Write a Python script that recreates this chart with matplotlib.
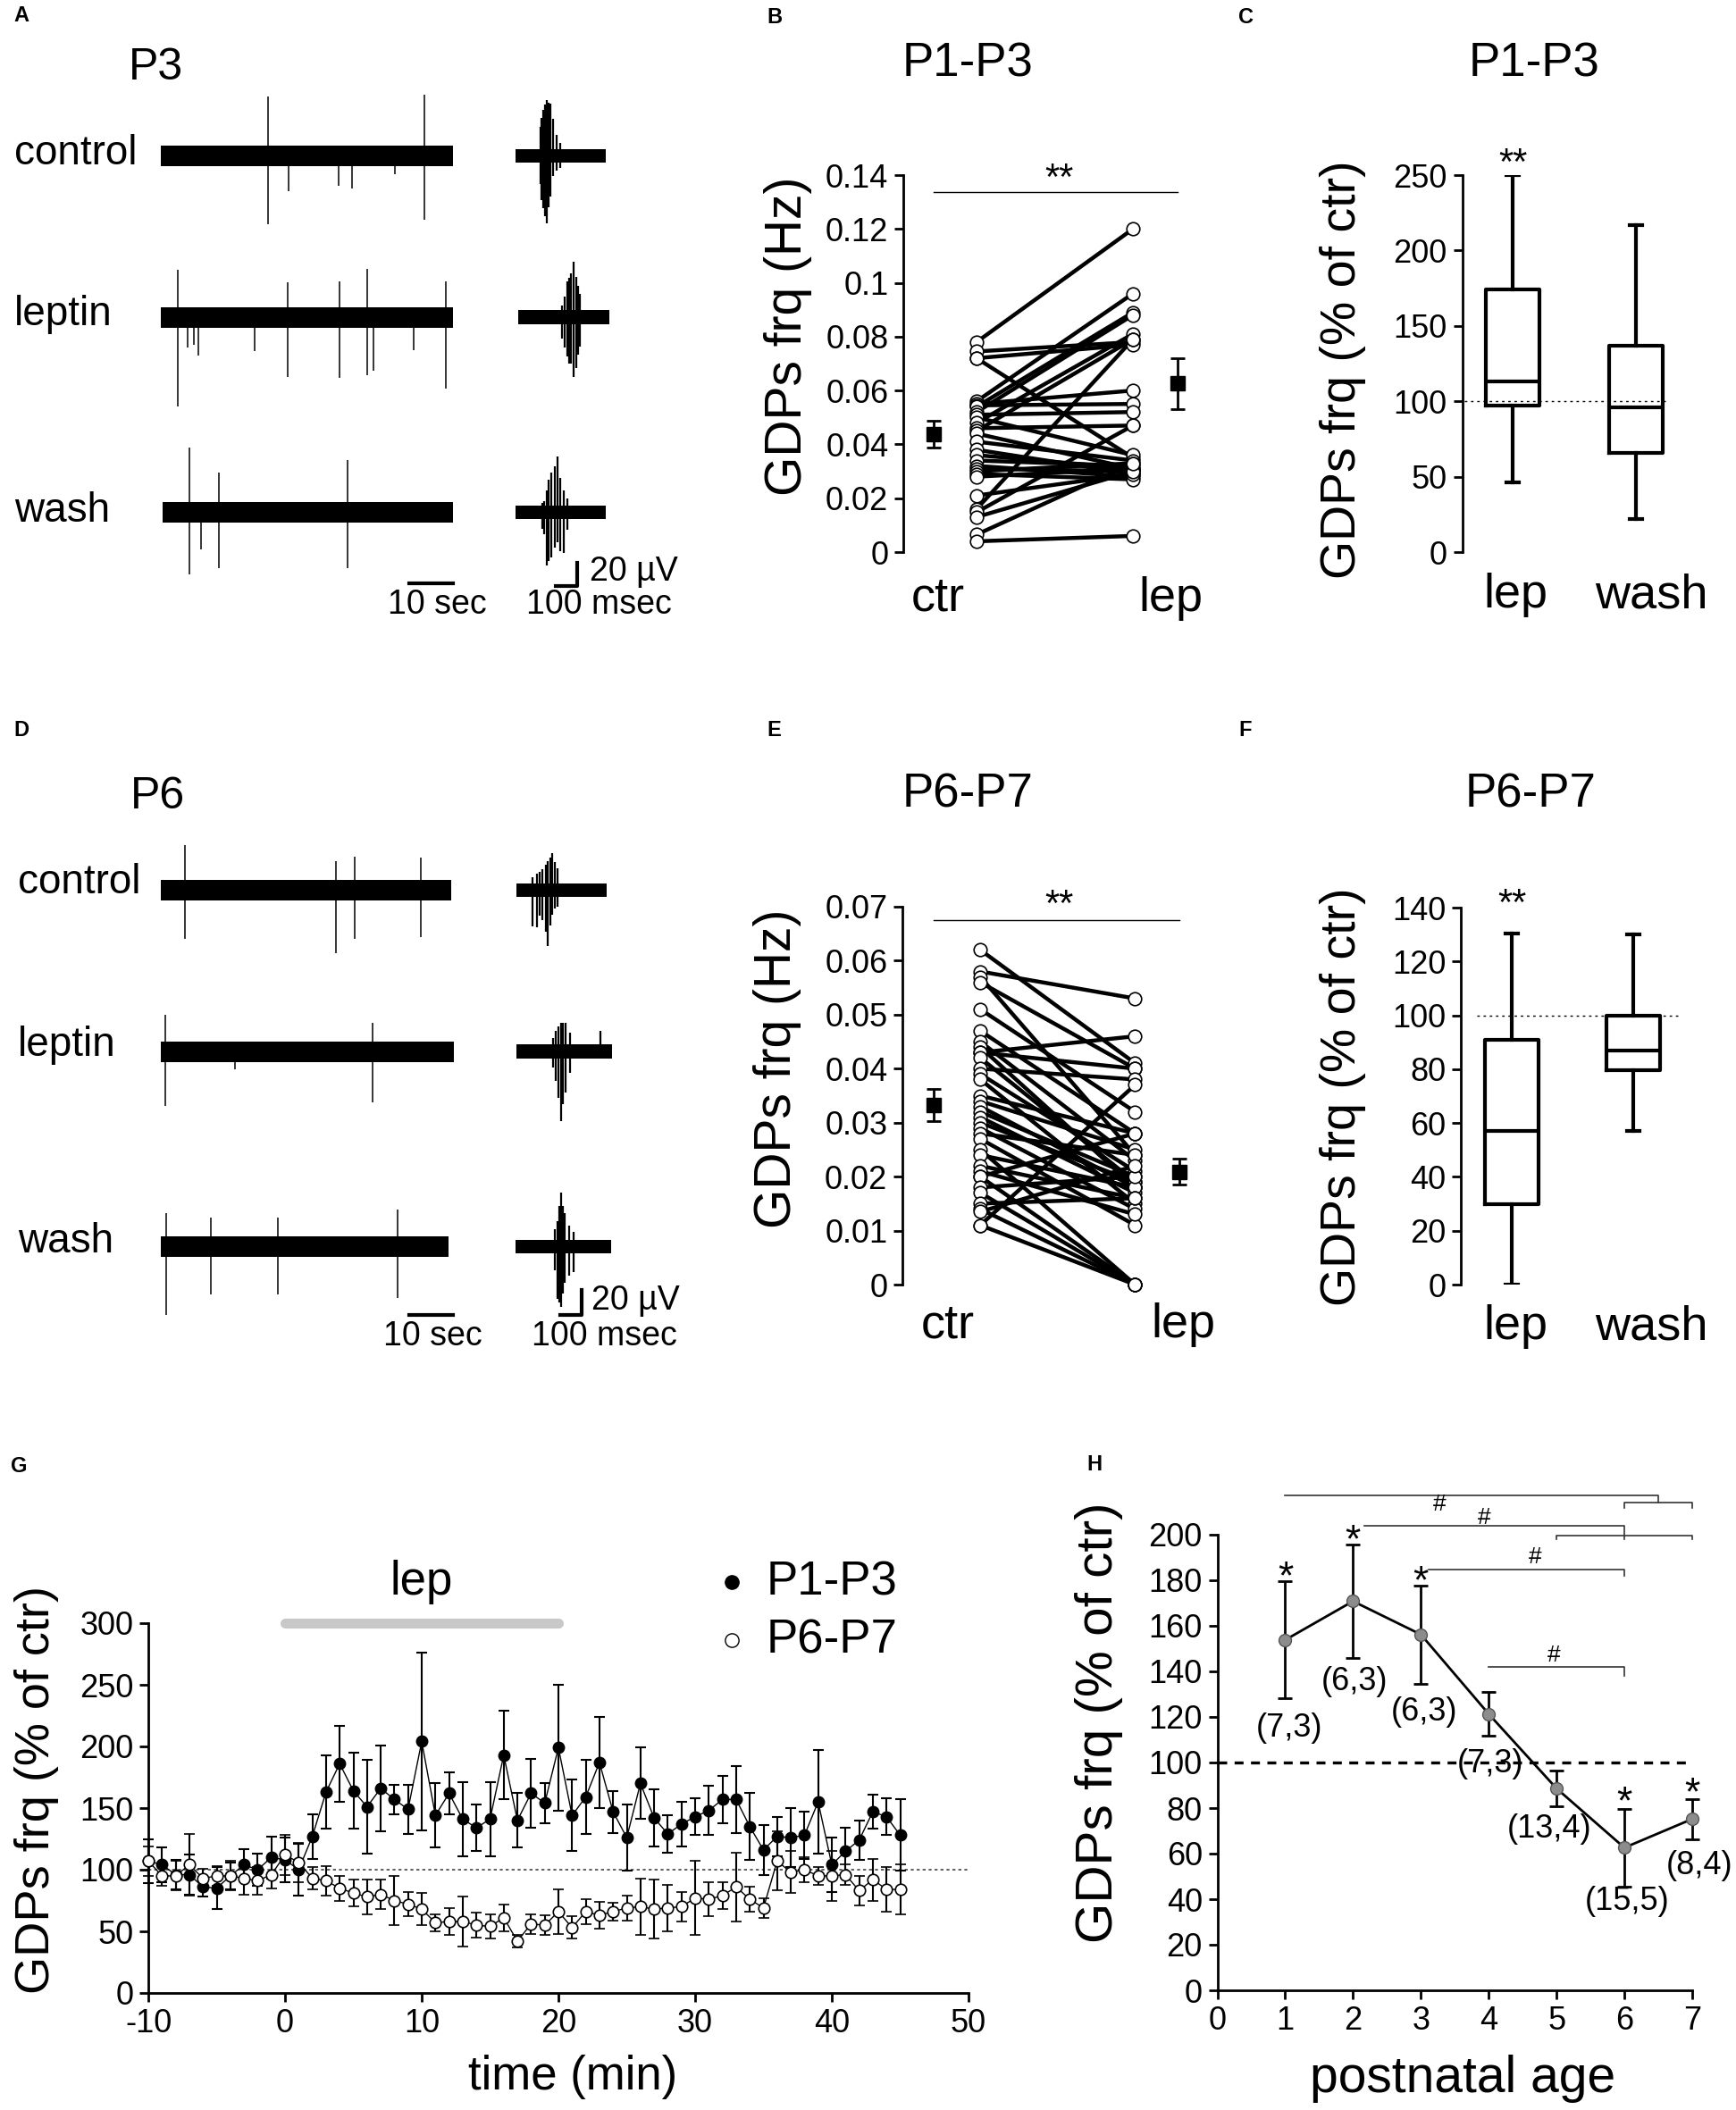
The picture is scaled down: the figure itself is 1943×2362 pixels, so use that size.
import matplotlib
matplotlib.use("Agg")
import matplotlib.pyplot as plt

plt.rcParams['font.family'] = ['Liberation Sans', 'DejaVu Sans']
plt.rcParams['axes.unicode_minus'] = False

W, H = 1943, 2362

# ---------------- data ----------------
# A / D raw traces: (time s, top uV, bottom uV) for each visible spike
A_SPAN = [(0.0, 65.0), (-0.4, 65.0), (0.4, 65.0)]
A_SPIKES = [
    [(23.8, 51, -59), (58.7, 53, -55), (28.5, 9, -30), (39.6, 9, -26), (42.5, 9, -28), (52.0, 9, -16)],
    [(3.7, 41, -77), (6.0, 9, -26), (7.3, 9, -24), (8.4, 9, -33), (20.9, 9, -29), (28.2, 30, -51),
     (39.7, 31, -52), (45.9, 42, -50), (47.3, 9, -46), (56.2, 9, -28), (63.4, 31, -61)],
    [(6.4, 56, -53), (9.0, 9, -32), (13.0, 34, -48), (41.6, 45, -48)],
]
D_SPAN = [(-0.2, 64.6), (-1.0, 65.4), (-0.4, 64.0)]
D_SPIKES = [
    [(5.3, 39, -42), (38.9, 25, -54), (43.1, 29, -42), (57.9, 28, -40)],
    [(1.0, 32, -47), (16.4, 9, -15), (47.1, 25, -44)],
    [(1.1, 29, -59), (11.1, 25, -41), (26.0, 25, -41), (52.7, 32, -44)],
]
# insets: (time ms, top uV, bottom uV)
A_INSET_SPAN = [(0, 421), (12, 437), (0, 421)]
A_BURSTS = [
    [(115, 25, -24), (122, 33, -38), (129, 40, -45), (137, 44, -52), (146, 48, -58), (154, 46, -44),
     (162, 45, -35), (175, 32, -17), (190, 18, -13), (208, 11, -10)],
    [(216, 10, -18), (229, 18, -26), (240, 31, -34), (250, 34, -40), (258, 38, -40), (271, 48, -51),
     (283, 35, -44), (292, 27, -32), (300, 20, -25)],
    [(125, 8, -14), (135, 10, -19), (146, 19, -46), (156, 28, -42), (167, 34, -39), (183, 40, -30),
     (196, 48, -26), (210, 30, -33), (225, 19, -35), (240, 12, -15)],
]
D_INSET_SPAN = [(4, 425), (4, 450), (0, 446)]
D_BURSTS = [
    [(79, 11, -31), (100, 14, -32), (113, 16, -22), (125, 18, -26), (140, 22, -36), (152, 25, -48),
     (162, 28, -30), (172, 32, -21), (184, 24, -16), (196, 19, -14)],
    [(175, 12, -14), (187, 18, -25), (200, 22, -40), (212, 25, -60), (222, 25, -45), (233, 25, -35),
     (254, 16, -18), (396, 18, -5)],
    [(185, 15, -20), (196, 22, -45), (205, 35, -48), (212, 47, -52), (222, 35, -40), (229, 29, -31),
     (250, 18, -25), (271, 13, -22)],
]

# B: GDP frequency ctr -> lep (P1-P3), Hz
B_CTR = [0.078, 0.0745, 0.072, 0.072, 0.056, 0.055, 0.0545, 0.054, 0.052, 0.051, 0.050, 0.048,
         0.046, 0.045, 0.044, 0.041, 0.038, 0.036, 0.034, 0.032, 0.031, 0.030, 0.029, 0.028,
         0.021, 0.016, 0.0148, 0.013, 0.0065, 0.004]
B_LEP = [0.120, 0.078, 0.077, 0.035, 0.096, 0.060, 0.055, 0.089, 0.088, 0.052, 0.036, 0.081,
         0.047, 0.079, 0.031, 0.034, 0.029, 0.031, 0.032, 0.028, 0.030, 0.033, 0.027, 0.031,
         0.029, 0.079, 0.047, 0.030, 0.033, 0.006]
B_MEAN = [0.0437, 0.0626]
B_SEM = [0.0050, 0.0095]

# E: GDP frequency ctr -> lep (P6-P7), Hz
E_CTR = [0.062, 0.058, 0.057, 0.056, 0.051, 0.047, 0.045, 0.044, 0.043, 0.043, 0.042, 0.040,
         0.039, 0.038, 0.035, 0.034, 0.033, 0.032, 0.031, 0.030, 0.029, 0.028, 0.027, 0.025,
         0.024, 0.022, 0.021, 0.020, 0.020, 0.018, 0.017, 0.015, 0.014, 0.0135, 0.011, 0.011]
E_LEP = [0.041, 0.053, 0.024, 0.040, 0.032, 0.028, 0.023, 0.018, 0.046, 0.040, 0.019, 0.038,
         0.021, 0.015, 0.028, 0.025, 0.018, 0.020, 0.017, 0.019, 0.014, 0.024, 0.011, 0.000,
         0.018, 0.016, 0.013, 0.028, 0.000, 0.020, 0.000, 0.016, 0.000, 0.022, 0.037, 0.000]
E_MEAN = [0.0333, 0.0209]
E_SEM = [0.0030, 0.0024]

# C / F box plots (% of ctr): whislo, q1, med, q3, whishi
BOX_LABELS = ["lep", "wash"]
C_BOX = [(46, 97, 113, 174, 250), (22, 66, 96, 137, 217)]
F_BOX = [(0, 30, 57, 91, 130.5), (57, 79.5, 87, 100, 130)]

# G: time course (% of ctr)
G_TIME = list(range(-10, 46))
G_P13 = [107, 104, 96, 96, 86, 85, 95, 104, 100, 110,
         108, 100, 127, 163, 186, 164, 151, 166, 157, 149,
         204, 144, 162, 141, 134, 141, 193, 140, 162, 154,
         199, 144, 159, 187, 147, 126, 170, 142, 129, 137,
         143, 148, 157, 157, 135, 116, 127, 126, 128, 155,
         104, 115, 124, 147, 143, 128]
G_P13_ERR = [18, 14, 12, 16, 8, 17, 11, 13, 13, 17,
             18, 21, 18, 30, 31, 31, 38, 35, 12, 20,
             72, 26, 17, 30, 19, 30, 36, 22, 28, 16,
             51, 29, 30, 37, 17, 27, 29, 23, 15, 18,
             15, 20, 19, 27, 27, 20, 16, 24, 19, 42,
             22, 19, 16, 14, 15, 29]
G_P67 = [107, 95, 95, 104, 93, 95, 95, 93, 91, 96,
         112, 106, 93, 91, 85, 81, 78, 80, 75, 72,
         68, 57, 58, 58, 55, 54, 61, 42, 56, 55,
         66, 53, 66, 63, 66, 69, 70, 68, 69, 70,
         77, 76, 79, 86, 76, 69, 107, 98, 100, 95,
         95, 96, 83, 92, 84, 84]
G_P67_ERR = [12, 8, 12, 25, 8, 8, 12, 13, 11, 11,
             16, 16, 9, 12, 10, 11, 14, 12, 20, 10,
             13, 7, 11, 20, 10, 10, 11, 5, 8, 8,
             18, 9, 10, 11, 7, 10, 23, 24, 19, 12,
             30, 14, 11, 28, 10, 8, 24, 17, 10, 7,
             20, 8, 12, 17, 18, 20]

# H: effect vs postnatal age
H_AGE = [1, 2, 3, 4, 5, 6, 7]
H_VAL = [153.8, 170.8, 156.2, 121.3, 88.6, 62.6, 75.2]
H_ERR = [25.7, 25.0, 21.5, 9.7, 8.0, 17.0, 8.8]
H_N = ["(7,3)", "(6,3)", "(6,3)", "(7,3)", "(13,4)", "(15,5)", "(8,4)"]
H_STAR_AGE = [1, 2, 3, 6, 7]

# ---------------- helpers ----------------
fig = plt.figure(figsize=(W / 100, H / 100), dpi=100)


def add_ax(left, top, right, bottom):
    return fig.add_axes([left / W, 1 - bottom / H, (right - left) / W, (bottom - top) / H])


def ftext(x, y, s, **kw):
    fig.text(x / W, 1 - y / H, s, **kw)


def clean(ax, bottom=False):
    for side in ["top", "right"]:
        ax.spines[side].set_visible(False)
    ax.spines["bottom"].set_visible(bottom)
    for side in ["left", "bottom"]:
        ax.spines[side].set_linewidth(2)
    ax.tick_params(direction="out", length=7, width=2, labelsize=26, pad=5)
    ax.patch.set_alpha(0)


ROW_OFF = [0, -139, -307]


def draw_traces(top_px, spans, spikes, inset_spans, bursts, bar_y):
    bottom_px = top_px + 480 * 1.3
    ax = add_ax(180, top_px, 507, bottom_px)
    ax.set_xlim(0, 65)
    ax.set_ylim(-420, 60)
    ax.axis("off")
    for off, (t0, t1), sp in zip(ROW_OFF, spans, spikes):
        ax.fill_between([t0, t1], off - 9, off + 9, color="k", lw=0)
        ax.vlines([s[0] for s in sp], [off + s[2] for s in sp], [off + s[1] for s in sp],
                  color="k", lw=1.1)
    ax.plot([55.2, 65.0], [bar_y, bar_y], color="k", lw=3, clip_on=False)

    axi = add_ax(577, top_px, 685, bottom_px)
    axi.set_xlim(0, 450)
    axi.set_ylim(-420, 60)
    axi.axis("off")
    for off, (t0, t1), bu in zip(ROW_OFF, inset_spans, bursts):
        axi.fill_between([t0, t1], off - 6, off + 6, color="k", lw=0)
        axi.vlines([b[0] for b in bu], [off + b[2] for b in bu], [off + b[1] for b in bu],
                   color="k", lw=1.6)
    return ax, axi


# ---------------- A ----------------
ftext(15, 18, "A", fontsize=17, fontweight="bold", ha="left", va="center")
ftext(175, 76, "P3", fontsize=36, ha="center", va="center")
for lab, y in zip(["control", "leptin", "wash"], [172, 352, 572]):
    ftext(16, y, lab, fontsize=33, ha="left", va="center")
axA, axAi = draw_traces(96.5, A_SPAN, A_SPIKES, A_INSET_SPAN, A_BURSTS, -368)
axAi.plot([187, 287, 287], [-370, -370, -350], color="k", lw=3, clip_on=False)
ftext(489, 677, "10 sec", fontsize=27, ha="center", va="center")
ftext(660, 640, "20 µV", fontsize=27, ha="left", va="center")
ftext(670, 677, "100 msec", fontsize=27, ha="center", va="center")

# ---------------- D ----------------
ftext(15, 818, "D", fontsize=17, fontweight="bold", ha="left", va="center")
ftext(177, 892, "P6", fontsize=36, ha="center", va="center")
for lab, y in zip(["control", "leptin", "wash"], [988, 1170, 1390]):
    ftext(20, y, lab, fontsize=33, ha="left", va="center")
axD, axDi = draw_traces(918.5, D_SPAN, D_SPIKES, D_INSET_SPAN, D_BURSTS, -366)
axDi.plot([208, 308, 308], [-366, -366, -344], color="k", lw=3, clip_on=False)
ftext(484, 1496, "10 sec", fontsize=27, ha="center", va="center")
ftext(662, 1456, "20 µV", fontsize=27, ha="left", va="center")
ftext(676, 1496, "100 msec", fontsize=27, ha="center", va="center")


# ---------------- B / E paired plots ----------------
def paired(ax, ctr, lep, mean, sem, ymax, step, labels, mx, sig_y, star_y):
    clean(ax)
    for c, l in zip(ctr, lep):
        ax.plot([0, 1], [c, l], color="k", lw=3.2, zorder=2)
    ax.plot([0] * len(ctr), ctr, "o", mfc="white", mec="k", ms=10.5, mew=1.2, zorder=3, clip_on=False)
    ax.plot([1] * len(lep), lep, "o", mfc="white", mec="k", ms=10.5, mew=1.2, zorder=3, clip_on=False)
    ax.errorbar(mx, mean, yerr=sem, fmt="s", color="k", ms=11, elinewidth=2, capsize=6, capthick=2,
                clip_on=False)
    ax.plot([mx[0], mx[1]], [sig_y, sig_y], color="k", lw=1, clip_on=False)
    ax.text(sum(mx) / 2 + 0.02, star_y, "**", fontsize=30, ha="center", va="center")
    ax.set_ylim(0, ymax)
    ticks = [i * step for i in range(len(labels))]
    ax.set_yticks(ticks)
    ax.set_yticklabels(labels)
    ax.set_xticks([])


axB = add_ax(1011, 196, 1345, 618)
axB.set_xlim(-0.469, 1.44)
paired(axB, B_CTR, B_LEP, B_MEAN, B_SEM, 0.14, 0.02,
       ["0", "0.02", "0.04", "0.06", "0.08", "0.1", "0.12", "0.14"], [-0.274, 1.286], 0.1336, 0.1385)
ftext(858, 20, "B", fontsize=17, fontweight="bold", ha="left", va="center")
ftext(1083, 72, "P1-P3", fontsize=38, ha="center", va="center")
ftext(882, 376, "GDPs frq (Hz)", fontsize=41, rotation=90, ha="center", va="center")
ftext(1050, 684, "ctr", fontsize=39, ha="center", va="baseline")
ftext(1310, 684, "lep", fontsize=39, ha="center", va="baseline")

axE = add_ax(1010, 1015, 1345, 1438)
axE.set_xlim(-0.503, 1.43)
paired(axE, E_CTR, E_LEP, E_MEAN, E_SEM, 0.07, 0.01,
       ["0", "0.01", "0.02", "0.03", "0.04", "0.05", "0.06", "0.07"], [-0.30, 1.283], 0.0675, 0.0702)
ftext(858, 818, "E", fontsize=17, fontweight="bold", ha="left", va="center")
ftext(1083, 890, "P6-P7", fontsize=38, ha="center", va="center")
ftext(870, 1196, "GDPs frq (Hz)", fontsize=41, rotation=90, ha="center", va="center")
ftext(1061, 1497, "ctr", fontsize=39, ha="center", va="baseline")
ftext(1324, 1497, "lep", fontsize=39, ha="center", va="baseline")


# ---------------- C / F box plots ----------------
def boxes(ax, stats, ymax, step, dot_x, star_y):
    clean(ax)
    bstats = [dict(whislo=s[0], q1=s[1], med=s[2], q3=s[3], whishi=s[4], label=l)
              for s, l in zip(stats, BOX_LABELS)]
    lw = 3
    ax.bxp(bstats, positions=[1, 2], widths=0.44, showfliers=False, capwidths=0.1,
           boxprops=dict(lw=lw, color="k"), whiskerprops=dict(lw=lw, color="k"),
           capprops=dict(lw=lw, color="k"), medianprops=dict(lw=lw, color="k"))
    ax.plot(dot_x, [100, 100], color="k", lw=1, ls=(0, (2, 3)), zorder=0)
    ax.text(1.0, star_y, "**", fontsize=30, ha="center", va="center")
    ax.set_ylim(0, ymax)
    ax.set_yticks(range(0, ymax + 1, step))
    ax.set_xticks([])


axC = add_ax(1636.5, 196, 1900, 618)
axC.set_xlim(0.59, 2.5)
boxes(axC, C_BOX, 250, 50, [0.61, 2.26], 257)
ftext(1386, 20, "C", fontsize=17, fontweight="bold", ha="left", va="center")
ftext(1717, 72, "P1-P3", fontsize=38, ha="center", va="center")
ftext(1503, 414, "GDPs frq (% of ctr)", fontsize=40, rotation=90, ha="center", va="center")
ftext(1696, 680, "lep", fontsize=39, ha="center", va="baseline")
ftext(1848, 680, "wash", fontsize=39, ha="center", va="baseline")

axF = add_ax(1635, 1016, 1900, 1438)
axF.set_xlim(0.58, 2.53)
boxes(axF, F_BOX, 140, 20, [0.71, 2.40], 141)
ftext(1386, 818, "F", fontsize=17, fontweight="bold", ha="left", va="center")
ftext(1713, 890, "P6-P7", fontsize=38, ha="center", va="center")
ftext(1503, 1228, "GDPs frq (% of ctr)", fontsize=40, rotation=90, ha="center", va="center")
ftext(1696, 1499, "lep", fontsize=39, ha="center", va="baseline")
ftext(1848, 1499, "wash", fontsize=39, ha="center", va="baseline")

# ---------------- G ----------------
axG = add_ax(166, 1817, 1084, 2231)
clean(axG, bottom=True)
axG.set_xlim(-10, 50)
axG.set_ylim(0, 300)
axG.set_xticks(range(-10, 51, 10))
axG.set_yticks(range(0, 301, 50))
axG.plot([-10, 50], [100, 100], color="#444444", lw=1.2, ls=(0, (2, 2)), zorder=1)
axG.errorbar(G_TIME, G_P13, yerr=G_P13_ERR, fmt="-o", color="k", mfc="k", mec="k", ms=9, lw=1,
             elinewidth=1.5, capsize=4, capthick=1.5, zorder=3, clip_on=False)
axG.errorbar(G_TIME, G_P67, yerr=G_P67_ERR, fmt="-o", color="k", mfc="white", mec="k", ms=9,
             lw=1, mew=1.2, elinewidth=1.5, capsize=4, capthick=1.5, zorder=4, clip_on=False)
axG.plot([0, 20], [300, 300], color="#c8c8c8", lw=8, solid_capstyle="round", clip_on=False)
axG.text(10, 333, "lep", fontsize=38, ha="center", va="center")
axG.plot([32.7], [333], "o", color="k", ms=11, clip_on=False)
axG.text(35.2, 333, "P1-P3", fontsize=38, ha="left", va="center")
axG.plot([32.7], [286], "o", mfc="white", mec="k", ms=11, clip_on=False)
axG.text(35.2, 286, "P6-P7", fontsize=38, ha="left", va="center")
ftext(12, 1641, "G", fontsize=17, fontweight="bold", ha="left", va="center")
ftext(41, 2004, "GDPs frq (% of ctr)", fontsize=39, rotation=90, ha="center", va="center")
ftext(641, 2325, "time (min)", fontsize=38, ha="center", va="center")

# ---------------- H ----------------
axH = add_ax(1362.5, 1718, 1894, 2228)
clean(axH, bottom=True)
axH.set_xlim(0, 7)
axH.set_ylim(0, 200)
axH.set_xticks(range(0, 8))
axH.set_yticks(range(0, 201, 20))
axH.plot([0, 7], [100, 100], color="k", lw=2.4, ls=(0, (3, 2.5)), zorder=1)
axH.errorbar(H_AGE, H_VAL, yerr=H_ERR, fmt="-o", color="k", lw=2, mfc="#8c8c8c", mec="#555555",
             ms=10, elinewidth=2, capsize=6, capthick=2, zorder=3, clip_on=False)
n_pos = [(1.06, 115), (2.02, 135.6), (3.05, 122), (4.03, 99.3), (4.9, 70.6), (6.04, 39), (7.1, 54.8)]
for lab, (x, y) in zip(H_N, n_pos):
    axH.text(x, y, lab, fontsize=26, ha="center", va="center", clip_on=False)
star_y = {1: 181, 2: 197, 3: 179, 6: 82, 7: 86}
for a in H_STAR_AGE:
    axH.text(a, star_y[a], "*", fontsize=32, ha="center", va="center")
br = dict(color="#333333", lw=1.2, clip_on=False)
axH.plot([1, 6.5, 6.5], [217.3, 217.3, 214], **br)
axH.plot([6, 6, 7, 7], [211.7, 214, 214, 211.7], **br)
axH.plot([2.16, 6, 6], [203.9, 203.9, 198], **br)
axH.plot([5, 5, 7, 7], [198, 199.6, 199.6, 198], **br)
axH.plot([3.12, 6, 6], [184.8, 184.8, 182], **br)
axH.plot([4, 6, 6], [142, 142, 138], **br)
for x, y in [(3.27, 213.5), (3.93, 207.5), (4.68, 190), (4.96, 147)]:
    axH.text(x, y, "#", fontsize=19, ha="center", va="center")
ftext(1216, 1639, "H", fontsize=17, fontweight="bold", ha="left", va="center")
ftext(1230, 1928, "GDPs frq (% of ctr)", fontsize=42, rotation=90, ha="center", va="center")
ftext(1637, 2327, "postnatal age", fontsize=41, ha="center", va="center")

fig.savefig("out.png", dpi=100)
